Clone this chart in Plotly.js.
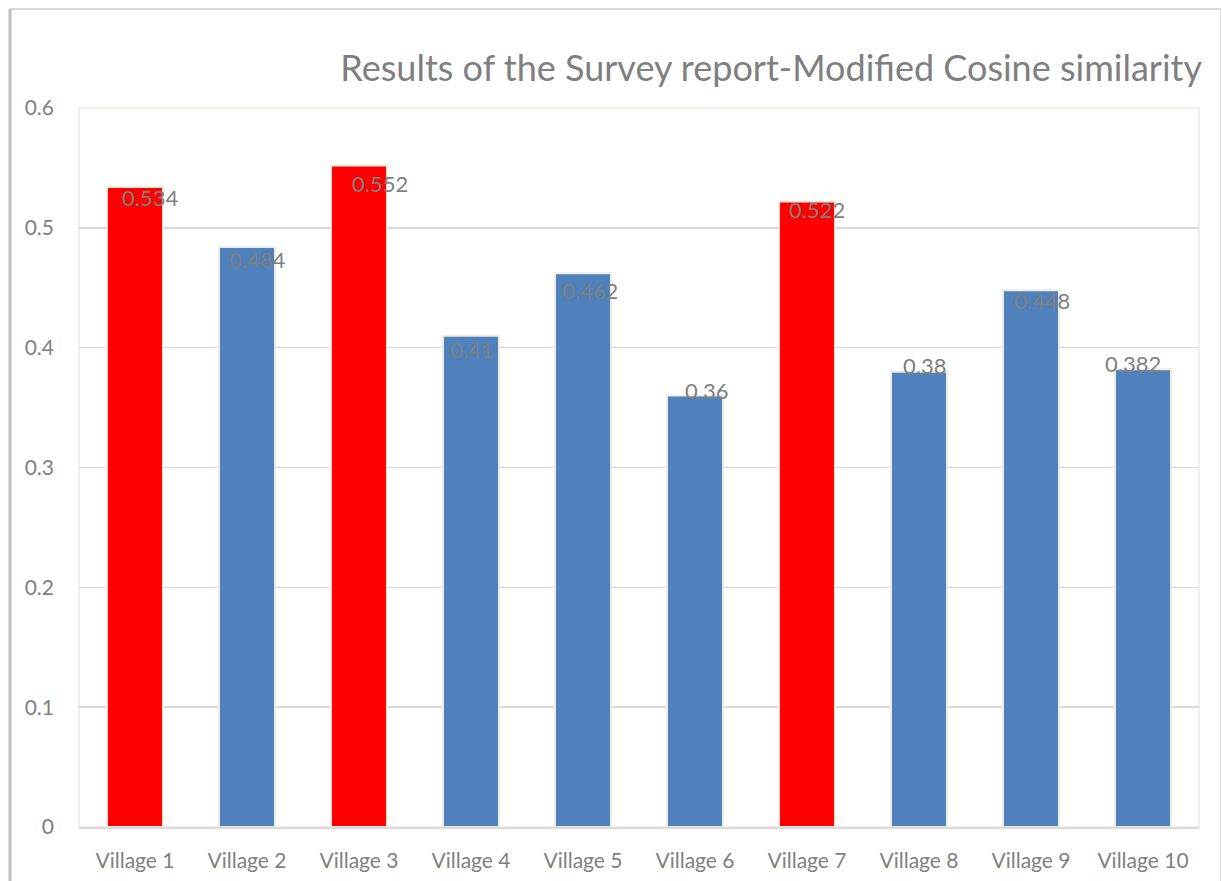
<!DOCTYPE html>
<html>
<head>
<meta charset="utf-8">
<script src="https://cdn.plot.ly/plotly-3.0.1.min.js"></script>
<style>
  html, body { margin: 0; padding: 0; background: #ffffff; }
  #chart { width: 1222px; height: 881px; }
</style>
</head>
<body>
<div id="chart"></div>
<script>
// ---- data ----
const categories = ["Village 1", "Village 2", "Village 3", "Village 4", "Village 5",
                    "Village 6", "Village 7", "Village 8", "Village 9", "Village 10"];
const values = [0.534, 0.484, 0.552, 0.41, 0.462, 0.36, 0.522, 0.38, 0.448, 0.382];
const highlighted = [true, false, true, false, false, false, true, false, false, false];
const yTicks = [0, 0.1, 0.2, 0.3, 0.4, 0.5, 0.6];
const titleText = "Results of the Survey report-Modified Cosine similarity";

// label offsets (pixels) to mimic the hand-placed data labels
const labelDx = [15, 10, 21, 0, 7, 11, 10, 5, 11, -10];
const labelDy = [-10, -12, -18, -14, -17, 5, -8, 6, -10, 6];

const RED = "#FF0000", BLUE = "#4F81BD", GREY = "#7F7F7F";
const FONT = "Lato, 'Open Sans', sans-serif";

const trace = {
  type: "bar",
  x: categories,
  y: values,
  marker: {
    color: highlighted.map(h => h ? RED : BLUE),
    line: { color: "#EEECE1", width: 2 }
  },
  hoverinfo: "x+y"
};

const annotations = categories.map((c, i) => ({
  x: c, y: values[i], xref: "x", yref: "y",
  text: String(values[i]),
  showarrow: false,
  xanchor: "center", yanchor: "middle",
  xshift: labelDx[i], yshift: labelDy[i],
  font: { family: FONT, size: 22, color: GREY }
}));

// plot area: x 79..1199, y 108..827
const L = 79, R = 1199, T = 108, B = 827;
const px = v => (v - L) / (R - L);
const py = v => (B - v) / (B - T);

const shapes = [
  // outer frame (top, left, right)
  { type: "line", xref: "paper", yref: "paper", x0: px(10), x1: px(1221), y0: py(9), y1: py(9),
    line: { color: "#D9D9D9", width: 2 } },
  { type: "line", xref: "paper", yref: "paper", x0: px(10), x1: px(10), y0: py(9), y1: py(890),
    line: { color: "#BFBFBF", width: 3 } },
  { type: "line", xref: "paper", yref: "paper", x0: px(1220.5), x1: px(1220.5), y0: py(9), y1: py(890),
    line: { color: "#E6E6E6", width: 1.5 } },
  // plot area border
  { type: "rect", xref: "paper", yref: "paper", x0: 0, x1: 1, y0: 0, y1: 1,
    line: { color: "#EEECE1", width: 1.5 }, layer: "below" }
];

const layout = {
  width: 1222, height: 881,
  margin: { l: L, r: 1222 - R, t: T, b: 881 - B, pad: 0 },
  paper_bgcolor: "#FFFFFF",
  plot_bgcolor: "#FFFFFF",
  showlegend: false,
  bargap: 0.5,
  title: {
    text: titleText,
    font: { family: FONT, size: 36, color: GREY },
    xref: "container", x: 1202 / 1222, xanchor: "right",
    yref: "container", y: 1 - 68 / 881, yanchor: "middle"
  },
  xaxis: {
    type: "category",
    showgrid: false,
    showline: true, linecolor: "#D9D9D9", linewidth: 1.5,
    ticks: "", ticklabelstandoff: 14,
    tickfont: { family: FONT, size: 21, color: GREY },
    zeroline: false
  },
  yaxis: {
    range: [0, 0.6],
    tickvals: yTicks,
    ticktext: yTicks.map(v => String(v)),
    showgrid: true, gridcolor: "#D9D9D9", gridwidth: 1.5,
    showline: false, zeroline: false,
    ticks: "", ticklabelstandoff: 24,
    tickfont: { family: FONT, size: 21, color: GREY }
  },
  annotations: annotations,
  shapes: shapes
};

Plotly.newPlot("chart", [trace], layout, { displayModeBar: false, staticPlot: true });
</script>
</body>
</html>
